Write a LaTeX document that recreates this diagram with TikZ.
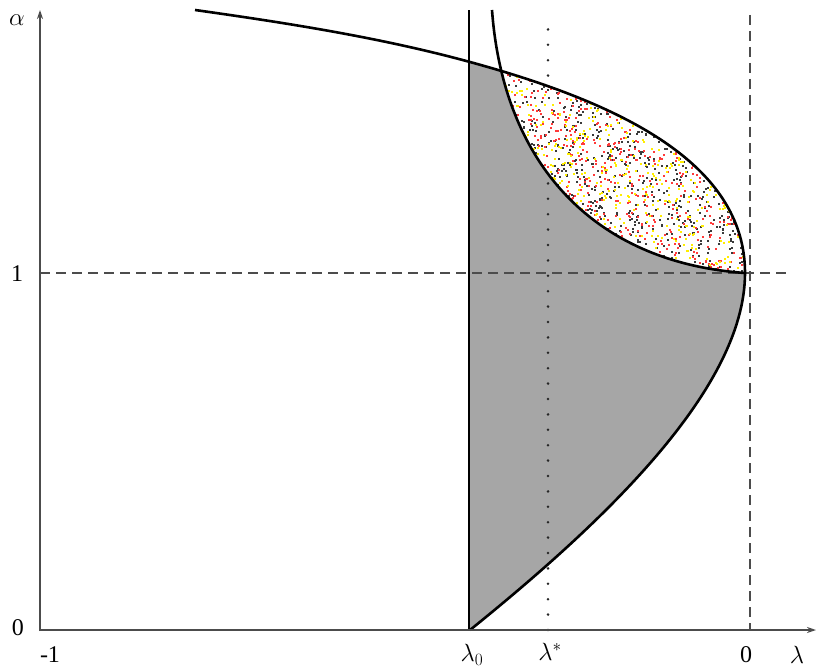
\documentclass[tikz,border=0pt]{standalone}
\usepackage{fontspec}
\setmainfont{Liberation Serif}
\usetikzlibrary{arrows.meta}
\definecolor{graybg}{HTML}{A6A6A6}
\definecolor{dotred}{HTML}{FF3A3A}
\definecolor{dotyel}{HTML}{FFEE00}
\definecolor{dotblk}{HTML}{3A3A3A}
\begin{document}
\begin{tikzpicture}[x=1pt,y=-1pt,
  lbl/.style={font=\fontsize{24}{28}\selectfont, inner sep=0pt},
  axisline/.style={draw=black!70, line width=1.4pt, -{Stealth[length=9pt,width=6pt]}},
  curveline/.style={draw=black, line width=2.6pt},
  thinline/.style={draw=black, line width=1.1pt},
  guide/.style={draw=black!70, line width=1.3pt, dash pattern=on 10pt off 6pt},
  dotline/.style={draw=black!85, line width=2.8pt, line cap=round, dash pattern=on 0pt off 15.4pt},
]
\useasboundingbox (0,0) rectangle (816,671);

% gray region
\begin{scope}
  \clip (469,0) rectangle (816,640);
  \fill[graybg] (195,10) .. controls (285,22.7) and (380,37.4) .. (470,62)
     .. controls (620,103) and (745,163) .. (745,273)
     .. controls (745,390) and (600,525) .. (470,630) -- cycle;
\end{scope}

% guide lines
\coordinate (hdl) at (40,273);
\coordinate (hdr) at (786,273);
\coordinate (vdt) at (750,15);
\coordinate (vdb) at (750,630);
\coordinate (dtt) at (548,25);
\coordinate (dtb) at (548,630);
\coordinate (l0t) at (469,10);
\coordinate (l0b) at (469,630);
\draw[guide] (hdl) -- (hdr);
\draw[guide] (vdt) -- (vdb);
\draw[dotline] (dtb) -- (dtt);
\draw[thinline] (l0b) -- (l0t);

% speckled region
\begin{scope}
  \clip (195,10) .. controls (285,22.7) and (380,37.4) .. (470,62)
     .. controls (620,103) and (745,163) .. (745,273)
     .. controls (745,390) and (600,525) .. (470,630) -- cycle;
  \clip (492,10) .. controls (503,160) and (590,262) .. (745,273) -- (816,273) -- (816,0) -- cycle;
  \fill[white] (460,0) rectangle (816,300);
  \pgfmathsetseed{7}
  \foreach \i in {1,...,1050}{
    \pgfmathsetmacro\px{495+255*rnd}\pgfmathsetmacro\py{60+215*rnd}
    \fill[dotblk] (\px,\py) rectangle ++(2,2);}
  \foreach \i in {1,...,850}{
    \pgfmathsetmacro\px{495+255*rnd}\pgfmathsetmacro\py{60+215*rnd}
    \fill[dotred] (\px,\py) rectangle ++(2,2);}
  \foreach \i in {1,...,700}{
    \pgfmathsetmacro\px{495+255*rnd}\pgfmathsetmacro\py{60+215*rnd}
    \fill[dotyel] (\px,\py) rectangle ++(2,2);}
\end{scope}

% curves
\coordinate (ctop) at (195,10);
\coordinate (cl0) at (470,62);
\coordinate (vertex) at (745,273);
\coordinate (cbot) at (470,630);
\coordinate (stop) at (492,10);
\draw[curveline] (ctop) .. controls (285,22.7) and (380,37.4) .. (cl0)
     .. controls (620,103) and (745,163) .. (vertex)
     .. controls (745,390) and (600,525) .. (cbot);
\draw[curveline] (stop) .. controls (503,160) and (590,262) .. (vertex);

% axes
\coordinate (O) at (40,630);
\coordinate (ytop) at (40,10);
\coordinate (xend) at (816,630);
\draw[axisline] (40,631) -- (ytop);
\draw[axisline] (39,630) -- (xend);

% labels
\node[lbl] (alpha) at (17,20) {$\alpha$};
\node[lbl] (one) at (17,274) {1};
\node[lbl] (zeroy) at (18,628) {0};
\node[lbl] (mone) at (50,655) {-1};
\node[lbl] (lam0) at (472,655) {$\lambda_0$};
\node[lbl] (lams) at (550,652) {$\lambda^*$};
\node[lbl] (zerox) at (746,655) {0};
\node[lbl] (lam) at (797,655) {$\lambda$};
\end{tikzpicture}
\end{document}
